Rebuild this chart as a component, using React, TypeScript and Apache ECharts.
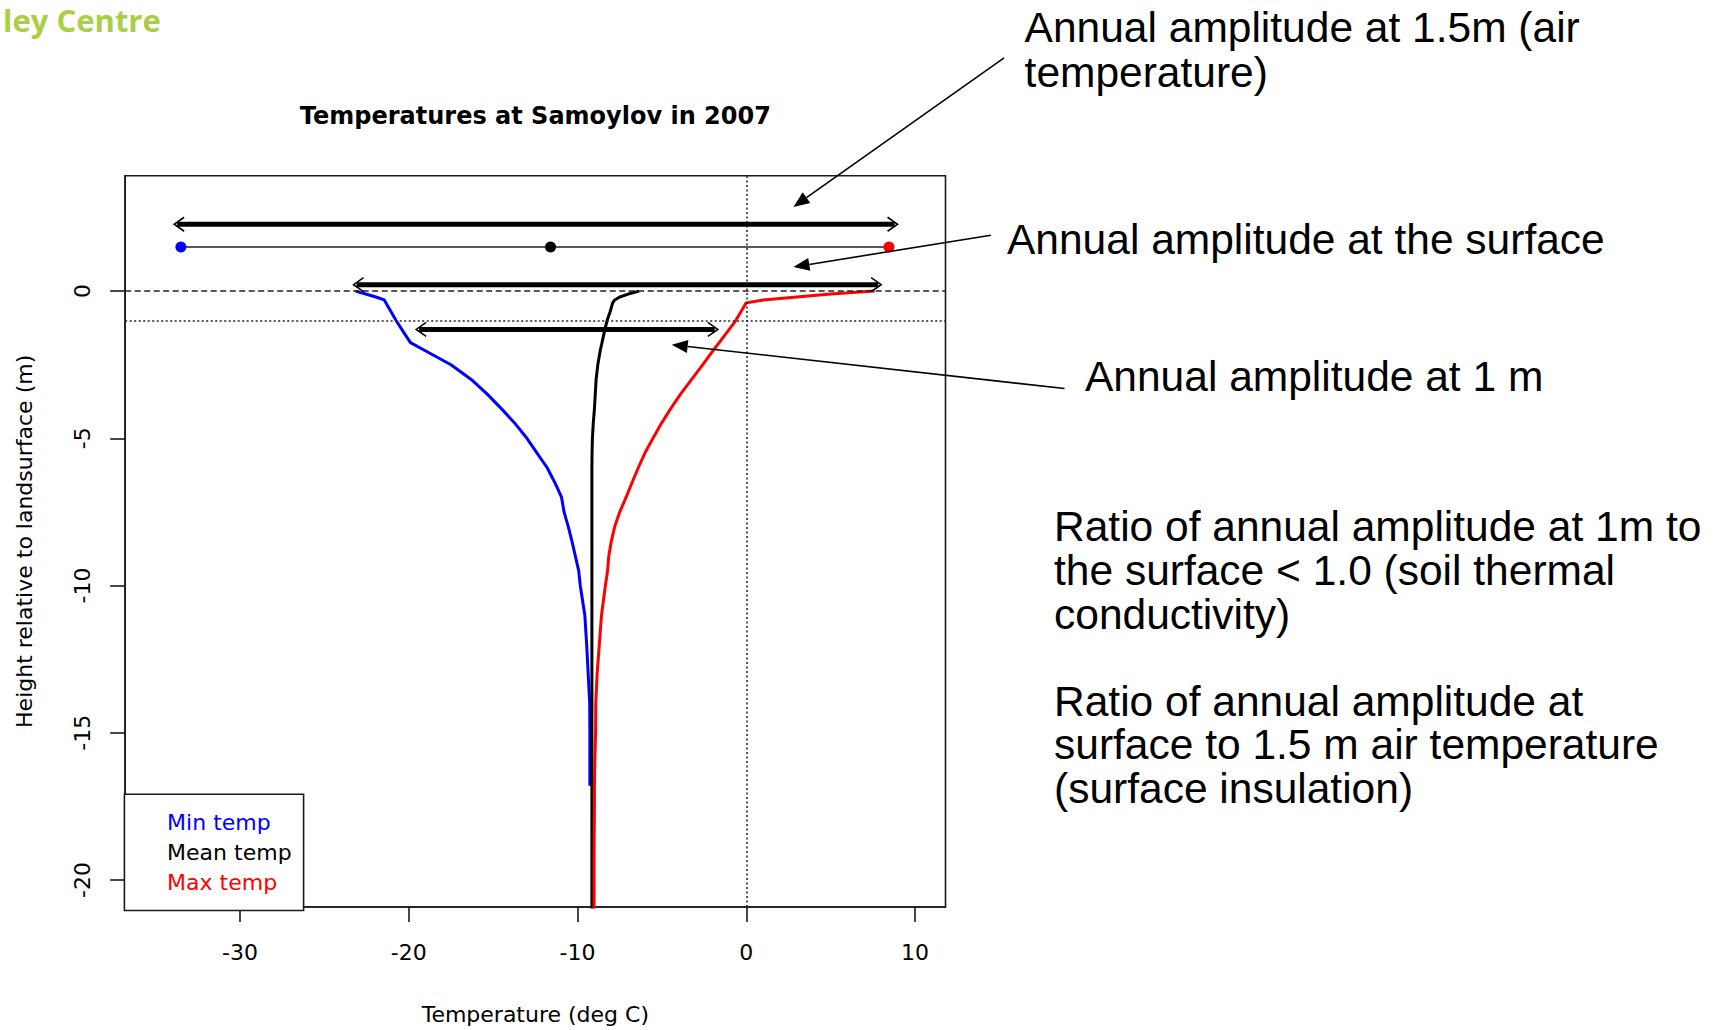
import React, { useEffect, useRef } from "react";
import * as echarts from "echarts";

// ---- Depth profiles (height relative to land surface, m) ----
const depths = [0, -0.1, -0.2, -0.3, -0.4, -0.7, -1.0, -1.4, -1.75, -2.0, -2.5, -3.0, -3.5, -4.0, -4.5, -5.0, -5.5, -6.0, -6.5, -7.0, -7.5, -8.0, -8.5, -9.0, -9.5, -10.0, -11.0, -12.0, -13.0, -14.0, -15.0, -16.0, -16.8, -17.5, -19.0, -21.0];
const minTemp = [-23.15, -22.55, -21.95, -21.45, -21.35, -21.05, -20.75, -20.3, -19.9, -19.1, -17.5, -16.3, -15.35, -14.5, -13.7, -13.0, -12.4, -11.8, -11.35, -10.95, -10.8, -10.55, -10.33, -10.13, -9.93, -9.84, -9.57, -9.46, -9.37, -9.28, -9.27, -9.27, -9.27, null, null, null];
const meanTemp = [-6.35, -7.0, -7.5, -7.8, -7.92, -8.07, -8.25, -8.42, -8.55, -8.65, -8.8, -8.9, -8.95, -9.0, -9.07, -9.12, -9.14, -9.15, -9.15, -9.15, -9.15, -9.15, -9.15, -9.15, -9.15, -9.15, -9.15, -9.15, -9.15, -9.15, -9.15, -9.15, -9.15, -9.15, -9.15, -9.15];
const maxTemp = [7.6, 5.0, 3.0, 1.0, -0.01, -0.32, -0.63, -1.15, -1.61, -1.94, -2.58, -3.24, -3.9, -4.49, -5.04, -5.53, -6.01, -6.4, -6.77, -7.12, -7.5, -7.8, -8.0, -8.15, -8.22, -8.35, -8.58, -8.71, -8.84, -8.92, -8.93, -8.98, -9.0, -9.0, -9.02, -9.02];

// ---- Air temperature at 1.5 m ----
const airHeight = 1.5;
const airLabels = ["min", "mean", "max"];
const airTemps = [-33.5, -11.6, 8.45];
const airColors = ["#0000ff", "#000000", "#ff0000"];

// ---- Annotation double arrows (amplitude) ----
const ampHeights = [2.27, 0.22, -1.3];
const ampFrom = [-33.9, -23.27, -19.56];
const ampTo = [8.96, 7.99, -1.69];

// ---- Callout arrows (start near text -> head), in data units ----
const calloutStartX = [15.27, 14.49, 18.85];
const calloutStartY = [7.92, 1.9, -3.31];
const calloutHeadX = [2.79, 2.79, -4.42];
const calloutHeadY = [2.86, 0.82, -1.82];

// ---- Axes ----
const xTicks = [-30, -20, -10, 0, 10];
const yTicks = [0, -5, -10, -15, -20];
const xMin = -36.8, xMax = 11.8;
const yMin = -20.92, yMax = 3.92;

const seriesNames = ["Min temp", "Mean temp", "Max temp"];
const seriesColors = ["#0000ff", "#000000", "#ff0000"];

const R_FONT = "'DejaVu Sans', 'Bitstream Vera Sans', sans-serif";
const SLIDE_FONT = "'Liberation Sans', Arial, Helvetica, sans-serif";

function profile(vals: (number | null)[]) {
  const out: number[][] = [];
  vals.forEach((v, i) => {
    if (v !== null) out.push([v, depths[i]]);
  });
  return out;
}

export default function App() {
  const ref = useRef<HTMLDivElement>(null);

  useEffect(() => {
    if (!ref.current) return;
    const chart = echarts.init(ref.current, null, { renderer: "svg" });

    const gridLeft = 125.2, gridTop = 175.7, gridW = 820.3, gridH = 734.7;
    const axisColor = "#1a1a1a";

    const option: any = {
      animation: false,
      backgroundColor: "#ffffff",
      grid: {
        left: gridLeft, top: gridTop, width: gridW, height: gridH,
        show: true, borderColor: axisColor, borderWidth: 1.6, backgroundColor: "transparent",
      },
      xAxis: {
        type: "value", min: xMin, max: xMax,
        name: "Temperature (deg C)", nameLocation: "middle", nameGap: 96,
        nameTextStyle: { fontFamily: R_FONT, fontSize: 22, color: "#000" },
        axisLine: { show: true, onZero: false, lineStyle: { color: axisColor, width: 1.6 } },
        splitLine: { show: false },
        axisTick: { show: true, inside: false, length: 15, lineStyle: { color: axisColor, width: 1.6 }, customValues: xTicks },
        axisLabel: { customValues: xTicks, margin: 34, fontFamily: R_FONT, fontSize: 22, color: "#000", formatter: (v: number) => String(v) },
      },
      yAxis: {
        type: "value", min: yMin, max: yMax,
        name: "Height relative to landsurface (m)", nameLocation: "middle", nameGap: 90,
        nameTextStyle: { fontFamily: R_FONT, fontSize: 22, color: "#000" },
        axisLine: { show: true, onZero: false, lineStyle: { color: axisColor, width: 1.6 } },
        splitLine: { show: false },
        axisTick: { show: true, inside: false, length: 15, lineStyle: { color: axisColor, width: 1.6 }, customValues: yTicks },
        axisLabel: { customValues: yTicks, rotate: 90, margin: 32, fontFamily: R_FONT, fontSize: 22, color: "#000", formatter: (v: number) => String(v) },
      },
      legend: {
        orient: "vertical", left: 124.4, top: 794.3,
        padding: [17.5, 12, 17.5, 37.7], itemGap: 7.6, itemWidth: 0, itemHeight: 22,
        icon: "none", selectedMode: false,
        borderColor: axisColor, borderWidth: 1.6, backgroundColor: "#fff",
        textStyle: { fontFamily: R_FONT, fontSize: 22, color: "#000" },
        data: seriesNames.map((n, i) => ({ name: n, textStyle: { color: seriesColors[i] } })),
      },
      series: [
        ...[minTemp, meanTemp, maxTemp].map((vals, i) => ({
          name: seriesNames[i], type: "line", data: profile(vals),
          showSymbol: false, symbol: "none", z: 3,
          lineStyle: { color: seriesColors[i], width: 3 },
          itemStyle: { color: seriesColors[i] },
        })),
        {
          name: "Air temperature 1.5 m", type: "line", z: 4,
          data: airTemps.map((t, i) => ({ value: [t, airHeight], name: airLabels[i], itemStyle: { color: airColors[i] } })),
          symbol: "circle", symbolSize: 11, showSymbol: true,
          lineStyle: { color: "#222", width: 1.5 },
        },
        {
          name: "Reference lines", type: "line", data: [], z: 2,
          markLine: {
            silent: true, symbol: "none", label: { show: false },
            data: [
              { yAxis: 0, lineStyle: { color: "#222", width: 1.5, type: [6, 3.5] } },
              { yAxis: -1, lineStyle: { color: "#222", width: 1.5, type: [2, 2.5] } },
              { xAxis: 0, lineStyle: { color: "#222", width: 1.5, type: [2, 2.5] } },
            ],
          },
        },
        {
          name: "Annual amplitude", type: "custom", z: 6, clip: false,
          data: ampHeights.map((h, i) => [ampFrom[i], ampTo[i], h]),
          encode: { x: [0, 1], y: 2 },
          renderItem: (params: any, api: any) => {
            const p1 = api.coord([api.value(0), api.value(2)]);
            const p2 = api.coord([api.value(1), api.value(2)]);
            const hl = 10, hh = 7;
            return {
              type: "group",
              children: [
                { type: "line", shape: { x1: p1[0] + 3, y1: p1[1], x2: p2[0] - 3, y2: p2[1] }, style: { stroke: "#000", lineWidth: 5 } },
                { type: "polyline", shape: { points: [[p1[0] + hl, p1[1] - hh], [p1[0], p1[1]], [p1[0] + hl, p1[1] + hh]] }, style: { stroke: "#000", fill: "none", lineWidth: 1.6 } },
                { type: "polyline", shape: { points: [[p2[0] - hl, p2[1] - hh], [p2[0], p2[1]], [p2[0] - hl, p2[1] + hh]] }, style: { stroke: "#000", fill: "none", lineWidth: 1.6 } },
              ],
            };
          },
        },
        {
          name: "Callouts", type: "custom", z: 6, clip: false,
          data: calloutStartX.map((sx, i) => [sx, calloutStartY[i], calloutHeadX[i], calloutHeadY[i]]),
          encode: { x: [0, 2], y: [1, 3] },
          renderItem: (params: any, api: any) => {
            const s = api.coord([api.value(0), api.value(1)]);
            const h = api.coord([api.value(2), api.value(3)]);
            const dx = h[0] - s[0], dy = h[1] - s[1];
            const len = Math.sqrt(dx * dx + dy * dy);
            const ux = dx / len, uy = dy / len;
            const px = -uy, py = ux;
            const hl = 16, hw = 6.5;
            const bx = h[0] - ux * hl, by = h[1] - uy * hl;
            return {
              type: "group",
              children: [
                { type: "line", shape: { x1: s[0], y1: s[1], x2: bx, y2: by }, style: { stroke: "#000", lineWidth: 1.6 } },
                { type: "polygon", shape: { points: [[h[0], h[1]], [bx + px * hw, by + py * hw], [bx - px * hw, by - py * hw]] }, style: { fill: "#000" } },
              ],
            };
          },
        },
      ],
      graphic: [
        { type: "text", x: 3, y: 20, style: { text: "ley Centre", fontFamily: "'Open Sans', 'Noto Sans', sans-serif", fontWeight: 700, fontSize: 31, fill: "#a9cf46", verticalAlign: "middle", align: "left" } },
        { type: "text", x: gridLeft + gridW / 2, y: 116.4, style: { text: "Temperatures at Samoylov in 2007", fontFamily: R_FONT, fontWeight: "bold", fontSize: 24, fill: "#000", align: "center", verticalAlign: "middle" } },
        { type: "text", x: 1024.6, y: 5, style: { text: "Annual amplitude at 1.5m (air\ntemperature)", fontFamily: SLIDE_FONT, fontSize: 42.5, lineHeight: 45, fill: "#000", align: "left", verticalAlign: "top" } },
        { type: "text", x: 1007, y: 217.4, style: { text: "Annual amplitude at the surface", fontFamily: SLIDE_FONT, fontSize: 42.5, lineHeight: 44, fill: "#000", align: "left", verticalAlign: "top" } },
        { type: "text", x: 1085, y: 354.7, style: { text: "Annual amplitude at 1 m", fontFamily: SLIDE_FONT, fontSize: 42.5, lineHeight: 44, fill: "#000", align: "left", verticalAlign: "top" } },
        { type: "text", x: 1054, y: 505, style: { text: "Ratio of annual amplitude at 1m to\nthe surface < 1.0 (soil thermal\nconductivity)", fontFamily: SLIDE_FONT, fontSize: 42.5, lineHeight: 43.6, fill: "#000", align: "left", verticalAlign: "top" } },
        { type: "text", x: 1054, y: 679.8, style: { text: "Ratio of annual amplitude at\nsurface to 1.5 m air temperature\n(surface insulation)", fontFamily: SLIDE_FONT, fontSize: 42.5, lineHeight: 43.4, fill: "#000", align: "left", verticalAlign: "top" } },
      ],
    };

    chart.setOption(option);
    return () => chart.dispose();
  }, []);

  return (
    <div
      ref={ref}
      style={{ position: "fixed", left: 0, top: 0, width: 1722, height: 1030, background: "#fff" }}
    />
  );
}
